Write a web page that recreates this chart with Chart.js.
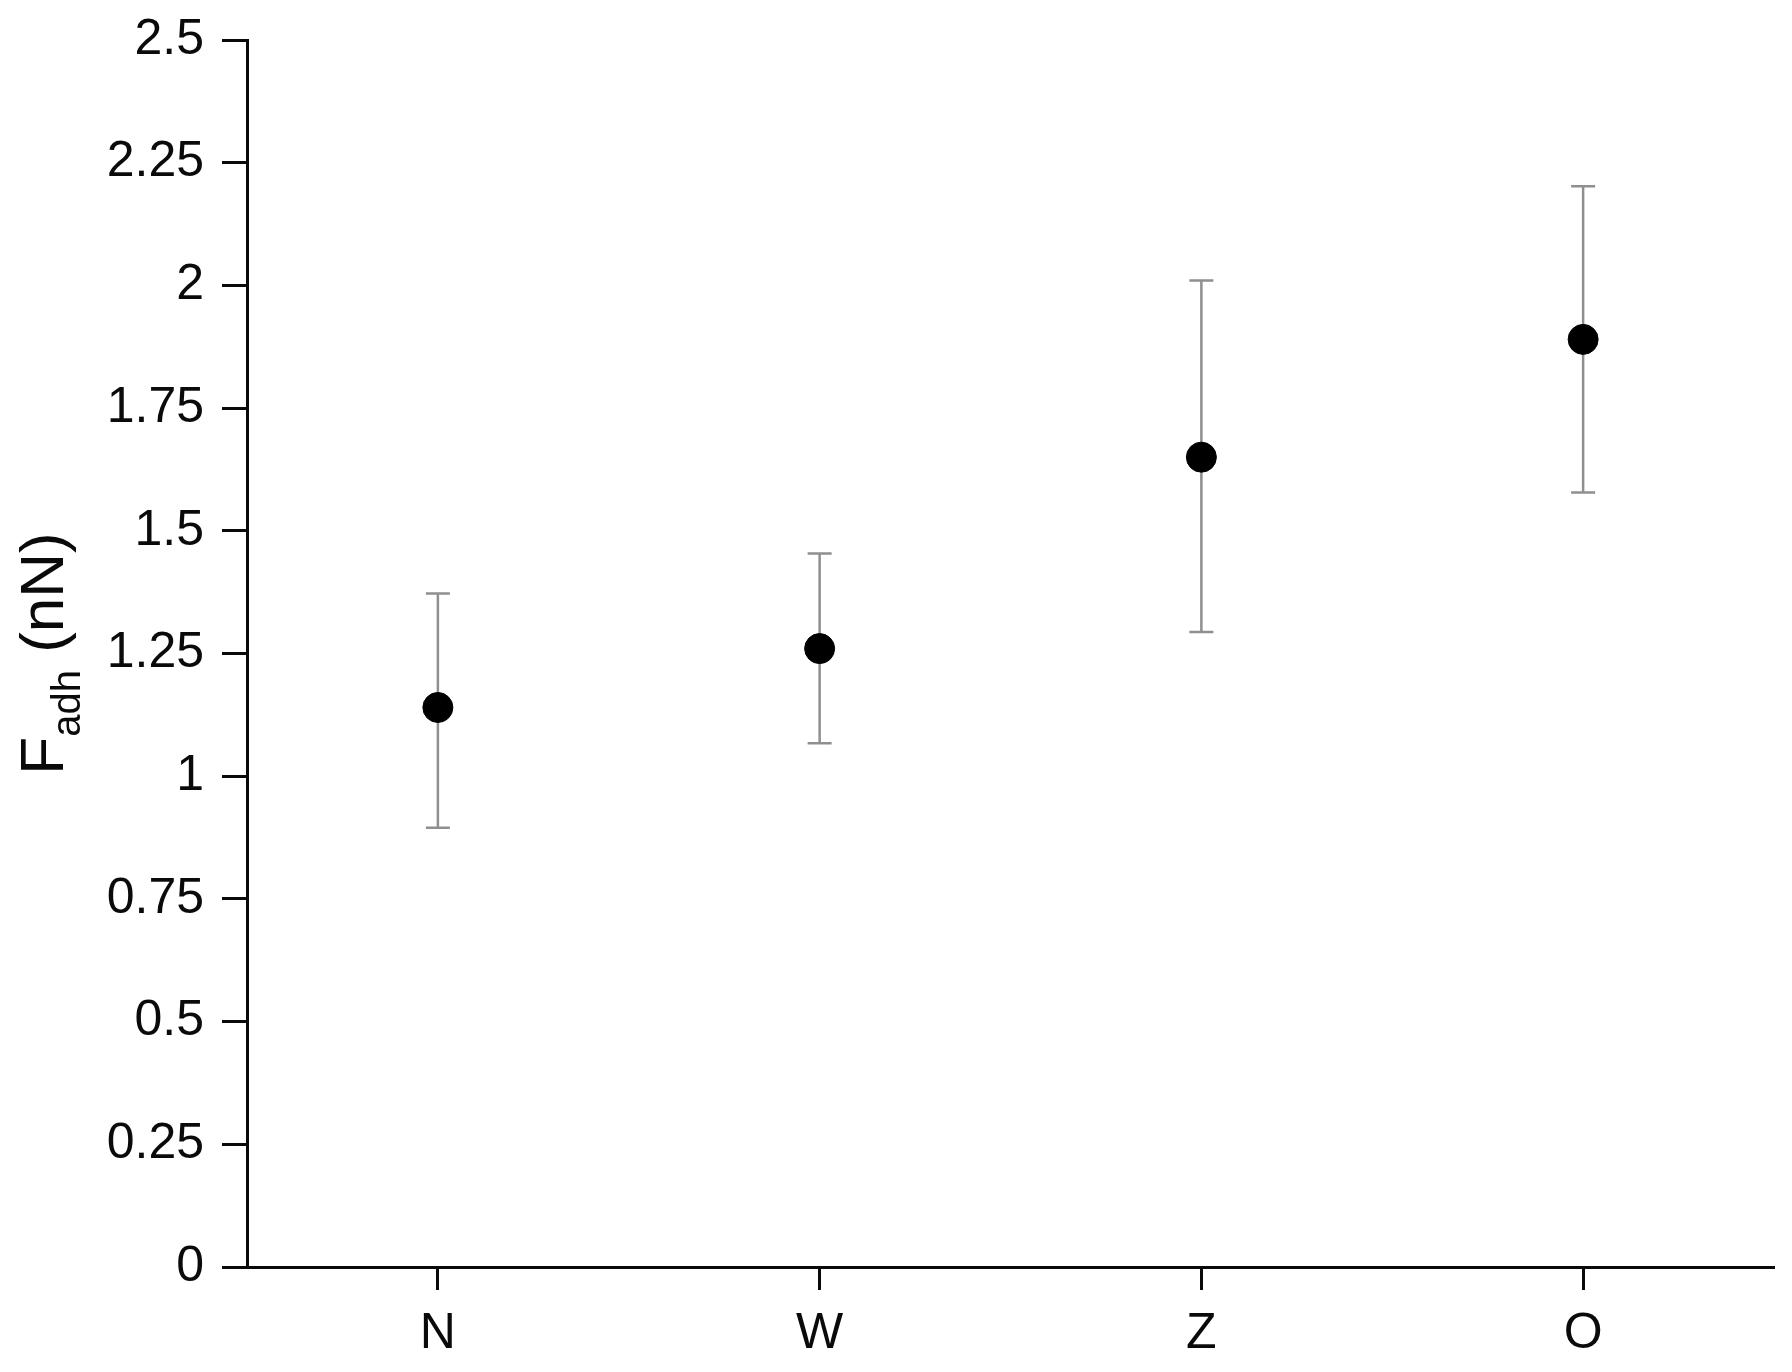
<!DOCTYPE html>
<html>
<head>
<meta charset="utf-8">
<script src="https://cdn.jsdelivr.net/npm/chart.js@4.4.0/dist/chart.umd.min.js"></script>
<style>
  html, body { margin: 0; padding: 0; background: #fff; }
  #wrap { width: 1792px; height: 1372px; position: relative; }
</style>
</head>
<body>
<div id="wrap"><canvas id="c" width="1792" height="1372"></canvas></div>
<script>
const categories = ['N', 'W', 'Z', 'O'];
const meanValues = [1.14, 1.26, 1.65, 1.89];
const errLow = [0.895, 1.067, 1.294, 1.578];
const errHigh = [1.372, 1.454, 2.01, 2.202];
const yTickLabels = ['0', '0.25', '0.5', '0.75', '1', '1.25', '1.5', '1.75', '2', '2.25', '2.5'];
const yTitleMain = 'F';
const yTitleSub = 'adh';
const yTitleRest = ' (nN)';

const FONT = '"Liberation Sans", Arial, sans-serif';

const errorBarPlugin = {
  id: 'errorBars',
  beforeDatasetsDraw(chart) {
    const ctx = chart.ctx;
    const xs = chart.scales.x, ys = chart.scales.y;
    ctx.save();
    ctx.strokeStyle = '#8f8f8f';
    ctx.lineWidth = 2.5;
    categories.forEach((c, i) => {
      const x = xs.getPixelForValue(i);
      const yl = ys.getPixelForValue(errLow[i]);
      const yh = ys.getPixelForValue(errHigh[i]);
      ctx.beginPath();
      ctx.moveTo(x, yl); ctx.lineTo(x, yh);
      ctx.moveTo(x - 12, yl); ctx.lineTo(x + 12, yl);
      ctx.moveTo(x - 12, yh); ctx.lineTo(x + 12, yh);
      ctx.stroke();
    });
    ctx.restore();
  }
};

const yTitlePlugin = {
  id: 'yTitle',
  afterDraw(chart) {
    const ctx = chart.ctx;
    const ca = chart.chartArea;
    const cy = (ca.top + ca.bottom) / 2;
    ctx.save();
    ctx.fillStyle = '#0a0a0a';
    ctx.textBaseline = 'alphabetic';
    ctx.textAlign = 'left';
    const bigFont = '62px ' + FONT;
    const smallFont = '40px ' + FONT;
    ctx.font = bigFont;
    const w1 = ctx.measureText(yTitleMain).width;
    const w3 = ctx.measureText(yTitleRest).width;
    ctx.font = smallFont;
    const w2 = ctx.measureText(yTitleSub).width;
    const total = w1 + w2 + w3;
    ctx.translate(63, cy);
    ctx.rotate(-Math.PI / 2);
    let x = -total / 2;
    ctx.font = bigFont;
    ctx.fillText(yTitleMain, x, 0); x += w1;
    ctx.font = smallFont;
    ctx.fillText(yTitleSub, x, 17); x += w2;
    ctx.font = bigFont;
    ctx.fillText(yTitleRest, x, 0);
    ctx.restore();
  }
};

new Chart(document.getElementById('c'), {
  type: 'line',
  data: {
    labels: categories,
    datasets: [{
      data: meanValues,
      showLine: false,
      pointRadius: 15,
      pointHoverRadius: 15,
      pointBackgroundColor: '#000',
      pointBorderColor: '#000',
      pointBorderWidth: 1
    }]
  },
  plugins: [errorBarPlugin, yTitlePlugin],
  options: {
    responsive: false,
    animation: false,
    events: [],
    layout: { padding: { top: 40, right: 18, left: 0, bottom: 0 } },
    plugins: { legend: { display: false }, tooltip: { enabled: false }, title: { display: false } },
    scales: {
      x: {
        type: 'category',
        offset: true,
        grid: { display: true, offset: false, drawOnChartArea: false, drawTicks: true, tickLength: 23, tickWidth: 3, tickColor: '#0a0a0a' },
        border: { display: true, color: '#0a0a0a', width: 3 },
        ticks: { color: '#0a0a0a', padding: 14, font: { family: FONT, size: 50 }, maxRotation: 0, autoSkip: false },
        afterFit(scale) { scale.height = 105; scale.paddingLeft = 0; scale.paddingRight = 0; }
      },
      y: {
        min: 0, max: 2.5,
        grid: { display: true, drawOnChartArea: false, drawTicks: true, tickLength: 25, tickWidth: 3, tickColor: '#0a0a0a' },
        border: { display: true, color: '#0a0a0a', width: 3 },
        ticks: {
          stepSize: 0.25, color: '#0a0a0a', padding: 18, font: { family: FONT, size: 50 },
          callback: (v, i) => yTickLabels[i]
        },
        afterFit(scale) { scale.width = 247; scale.paddingTop = 0; scale.paddingBottom = 0; }
      }
    }
  }
});
</script>
</body>
</html>
